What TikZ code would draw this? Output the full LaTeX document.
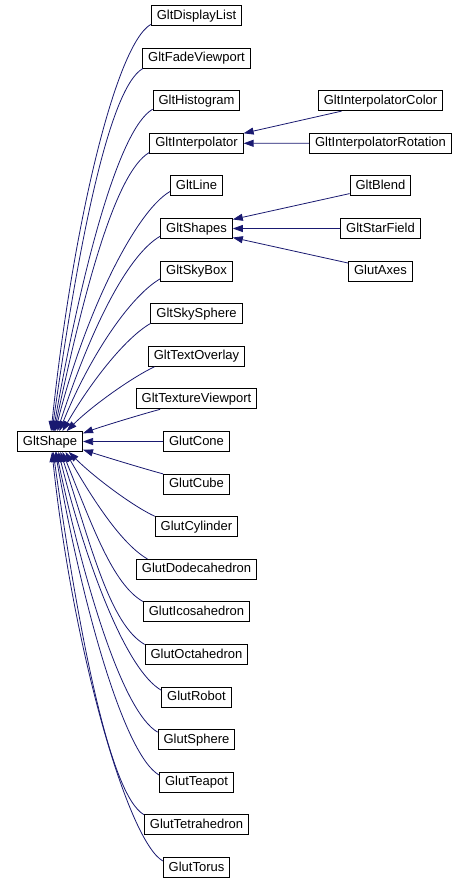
\documentclass[tikz,border=0pt]{standalone}
\usepackage{fontspec}
\setmainfont{Liberation Sans}
\usepackage{tikz}
\usepackage{xcolor}
\usetikzlibrary{arrows.meta,positioning,calc}
\definecolor{edgeblue}{HTML}{191970}

\begin{document}
\begin{tikzpicture}[
  x=1pt, y=1pt,
  cls/.style ={rectangle, draw=black, fill=white, line width=0.9pt, inner xsep=5.5pt, inner ysep=0pt,
               minimum height=20pt, text height=9.6pt, text depth=2.6pt, font=\fontsize{13}{15}\selectfont},
  edge/.style={draw=edgeblue, line width=0.8pt, {Triangle[length=10pt,width=7pt]}-},
]
\useasboundingbox (0,0) rectangle (470,-884);

% base class
\node[cls] (GltShape) at (50,-441.5) {GltShape};

% derived classes, one per row
\foreach \n [count=\i from 0] in {GltDisplayList,GltFadeViewport,GltHistogram,GltInterpolator,GltLine,
    GltShapes,GltSkyBox,GltSkySphere,GltTextOverlay,GltTextureViewport,GlutCone,GlutCube,GlutCylinder,
    GlutDodecahedron,GlutIcosahedron,GlutOctahedron,GlutRobot,GlutSphere,GlutTeapot,GlutTetrahedron,GlutTorus} {
  \node[cls] (\n) at (196.5,{-15.5-42.6*\i}) {\n};
}

% third level
\node[cls] (GltInterpolatorColor)    at (380.5,-100.7) {GltInterpolatorColor};
\node[cls] (GltInterpolatorRotation) at (380.5,-143.3) {GltInterpolatorRotation};
\node[cls] (GltBlend)                at (380.5,-185.9) {GltBlend};
\node[cls] (GltStarField)            at (380.5,-228.5) {GltStarField};
\node[cls] (GlutAxes)                at (380.5,-271.1) {GlutAxes};

% inheritance edges into GltShape: source/anchor, target anchor, out angle/dist, in angle/dist
\foreach \src/\sa/\ta/\oa/\od/\ia/\id in {
    GltDisplayList/191/84/84/210/210/40,
    GltFadeViewport/191/79/82/180/210/40,
    GltHistogram/191/73/80/160/210/40,
    GltInterpolator/191/68/78/140/210/40,
    GltLine/192/63/76/120/210/40,
    GltShapes/192/55/72/100/210/40,
    GltSkyBox/192/48/68/80/210/35,
    GltSkySphere/192/40/60/55/210/30,
    GltTextOverlay/194/32/45/35/205/25,
    GltTextureViewport/196/14/20/20/195/20,
    GlutCube/163/-14/-18/20/165/20,
    GlutCylinder/166/-29/-45/35/155/25,
    GlutDodecahedron/168/-34/-60/55/150/30,
    GlutIcosahedron/169/-40/-68/80/150/35,
    GlutOctahedron/169/-45/-72/100/150/40,
    GlutRobot/169/-51/-76/120/150/40,
    GlutSphere/169/-59/-78/140/150/40,
    GlutTeapot/169/-63/-80/160/150/40,
    GlutTetrahedron/169/-73/-82/180/150/40,
    GlutTorus/169/-79/-84/200/150/40} {
  \draw[edge] (GltShape.\ta) to[out=\oa, in=\ia, out distance=\od, in distance=\id] (\src.\sa);
}
\draw[edge] (GltShape.east) -- (GlutCone.west);

% second level edges
\draw[edge] (GltInterpolator.12)   -- (GltInterpolatorColor.195);
\draw[edge] (GltInterpolator.east) -- (GltInterpolatorRotation.west);
\draw[edge] (GltShapes.14)         -- (GltBlend.194);
\draw[edge] (GltShapes.east)       -- (GltStarField.west);
\draw[edge] (GltShapes.-14)        -- (GlutAxes.166);
\end{tikzpicture}
\end{document}
